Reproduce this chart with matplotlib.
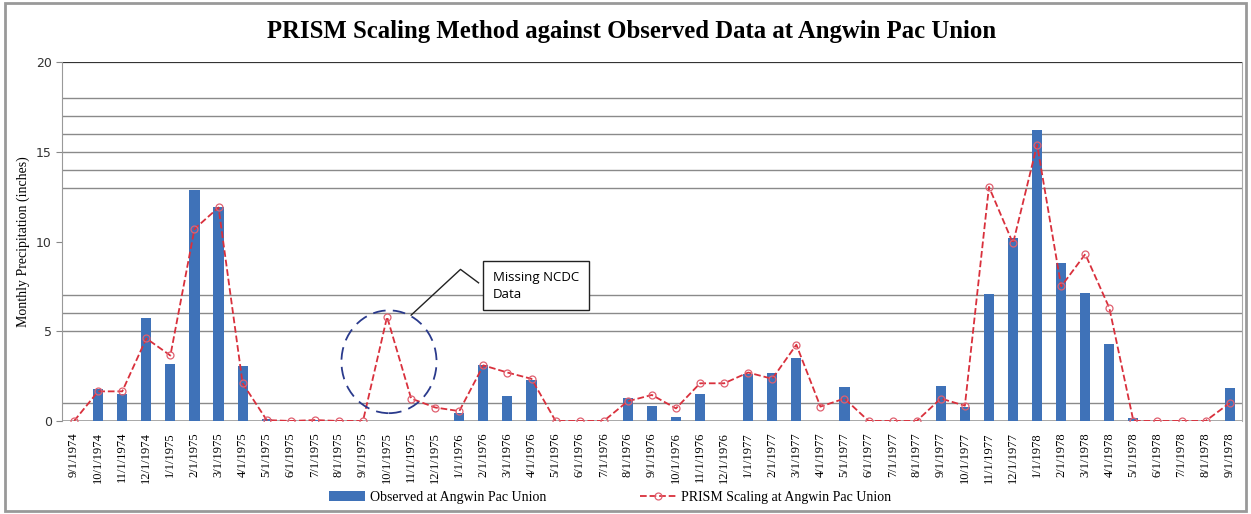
import numpy as np
import matplotlib.pyplot as plt
from matplotlib.patches import Ellipse, Rectangle

# месяцы 9/1974 .. 9/1978
months = [f'{(8 + i) % 12 + 1}/1/{1974 + (8 + i) // 12}' for i in range(49)]

observed = [0, 1.8, 1.5, 5.75, 3.2, 12.9, 11.95, 3.05, 0.1, 0, 0.05, 0, 0, 0,
            0, 0, 0.45, 3.1, 1.4, 2.3, 0, 0, 0, 1.3, 0.85, 0.2, 1.5, 0,
            2.6, 2.7, 3.5, 0, 1.9, 0, 0, 0, 1.95, 0.8, 7.1, 10.2, 16.2, 8.8,
            7.15, 4.3, 0.15, 0, 0, 0, 1.85]

prism = [0, 1.65, 1.65, 4.6, 3.65, 10.7, 11.9, 2.1, 0.05, 0, 0.05, 0, 0, 5.8,
         1.25, 0.75, 0.55, 3.1, 2.7, 2.35, 0, 0, 0, 1.1, 1.45, 0.7, 2.1, 2.1,
         2.7, 2.35, 4.25, 0.8, 1.25, 0, 0, 0, 1.25, 0.85, 13.05, 9.9, 15.4, 7.5,
         9.3, 6.3, 0, 0, 0, 0, 1.0]

grid_levels = [1, 5, 6, 7, 13, 14, 15, 16, 17, 18]
y_ticks = [0, 5, 10, 15, 20]

SERIF = 'Liberation Serif'

fig = plt.figure(figsize=(12.51, 5.14), dpi=100)
ax = fig.add_axes([0.0496, 0.181, 0.943, 0.698])

x = np.arange(len(months))

for g in grid_levels:
    ax.axhline(g, color='#8a8a8a', lw=1.0, zorder=0)
ax.axhline(20, color='#333333', lw=1.6, zorder=0)

bars = ax.bar(x, observed, width=0.42, color='#3f72b8', zorder=2,
              label='Observed at Angwin Pac Union')
line, = ax.plot(x, prism, '--', color='#d9303c', lw=1.3, marker='o', ms=5,
                mfc='none', mec='#e06070', mew=0.9, zorder=3,
                label='PRISM Scaling at Angwin Pac Union')

ax.set_xlim(-0.5, len(months) - 0.5)
ax.set_ylim(0, 20)
ax.set_yticks(y_ticks)
ax.set_yticklabels([str(v) for v in y_ticks], fontsize=9, color='#333333')
ax.set_xticks(x)
ax.set_xticklabels(months, rotation=90, fontsize=9, family=SERIF)
ax.tick_params(axis='x', length=0, pad=8)
ax.tick_params(axis='y', length=4, color='#888888')
ax.set_ylabel('Monthly Precipitation (inches)', fontsize=10, family=SERIF,
              labelpad=4)

for s in ['top', 'bottom']:
    ax.spines[s].set_visible(False)
ax.spines['left'].set_color('#999999')
ax.spines['right'].set_color('#aaaaaa')
ax.axhline(0, color='#999999', lw=1.2, zorder=1)

# выноска "Missing NCDC Data"
ax.add_patch(Ellipse((13.08, 3.3), 3.95, 5.73, fill=False, ls=(0, (7, 4)),
                     ec='#2a3a8c', lw=1.3, zorder=4))
ax.plot([14.0, 16.05, 16.8], [5.9, 8.45, 7.7], color='#222222', lw=1.0,
        zorder=4)
ax.text(17.4, 7.55, 'Missing NCDC\nData', fontsize=9.5, family='Open Sans',
        va='center', ha='left', linespacing=1.4, zorder=5,
        bbox=dict(boxstyle='square,pad=0.75', fc='white', ec='#222222', lw=1.0))

fig.suptitle('PRISM Scaling Method against Observed Data at Angwin Pac Union',
             x=0.505, y=0.962, fontsize=17.8, fontweight='bold', family=SERIF)

fig.legend([bars, line], [bars.get_label(), line.get_label()],
           loc='center', bbox_to_anchor=(0.4876, 0.033), ncol=2, frameon=False,
           prop={'family': SERIF, 'size': 10}, columnspacing=6.8,
           handlelength=2.6, handletextpad=0.3)

fig.add_artist(Rectangle((0.004, 0.006), 0.992, 0.988, transform=fig.transFigure,
                         fill=False, ec='#999999', lw=2))

fig.savefig('out.png', dpi=100)
